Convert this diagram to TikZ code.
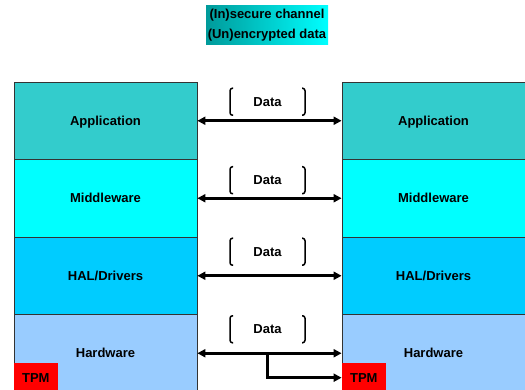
\documentclass[tikz,border=0pt]{standalone}
\usepackage{fontspec}
\setmainfont{Liberation Sans}
\usetikzlibrary{arrows.meta}
\definecolor{layer1}{HTML}{33CCCC}
\definecolor{layer2}{HTML}{00FFFF}
\definecolor{layer3}{HTML}{00CCFF}
\definecolor{layer4}{HTML}{99CCFF}
\definecolor{titleleft}{HTML}{009A9A}
\begin{document}
\begin{tikzpicture}[
    x=1pt, y=-1pt,
    every node/.style={font=\fontsize{13}{20}\selectfont\bfseries, inner sep=0pt},
    label/.style={text height=9.4pt, text depth=0pt},
    layer/.style={rectangle, label, draw=black!80, line width=0.8pt, minimum width=183pt, minimum height=77.5pt},
    tpm/.style={rectangle, label, fill=red, minimum width=44pt, minimum height=29pt},
    link/.style={line width=2.8pt, {Triangle[length=8pt,width=8pt]}-{Triangle[length=8pt,width=8pt]}},
    brace/.style={line width=1.5pt, rounded corners=2.5pt}
]
  \useasboundingbox (0,0) rectangle (525,390);

  \node[shade, left color=titleleft, right color=cyan, minimum width=122pt, minimum height=39pt, align=center]
    (title) at (267,25) {(In)secure channel\\(Un)encrypted data};

  % protocol stacks
  \foreach \txt [count=\i] in {Application, Middleware, HAL/Drivers, Hardware} {
    \node[layer, fill=layer\i] (l\i) at (105.5, 43.25+77.5*\i) {\txt};
    \node[layer, fill=layer\i] (r\i) at (433.5, 43.25+77.5*\i) {\txt};
  }
  \node[tpm, anchor=south west] (tpmL) at (l4.south west) {TPM};
  \node[tpm, anchor=south west] (tpmR) at (r4.south west) {TPM};

  % channels
  \foreach \dy [count=\i] in {19,18,24,24} {
    \draw[link] (l\i) -- (r\i);
    \node[label] (d\i) at (267.5, 43.25+77.5*\i-\dy) {Data};
    \draw[brace] (d\i.center) ++(-34.5,-13.5) -- ++(-3,0) -- ++(0,27) -- ++(3,0);
    \draw[brace] (d\i.center) ++(34.5,-13.5) -- ++(3,0) -- ++(0,27) -- ++(-3,0);
  }
  \draw[line width=2.8pt, -{Triangle[length=8pt,width=8pt]}] (l4 -| d4) |- (tpmR);
\end{tikzpicture}
\end{document}
